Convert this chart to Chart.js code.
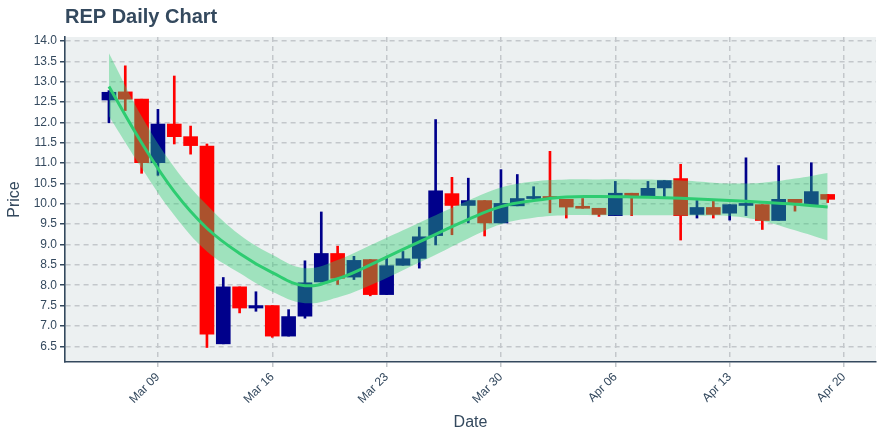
<!DOCTYPE html>
<html>
<head>
<meta charset="utf-8">
<title>REP Daily Chart</title>
<script src="https://cdn.jsdelivr.net/npm/chart.js"></script>
<style>
  html, body { margin: 0; padding: 0; background: #ffffff; }
  #wrap { width: 880px; height: 440px; }
</style>
</head>
<body>
<div id="wrap"><canvas id="repChart" width="880" height="440"></canvas></div>
<script>
// Daily candles, Mar 06 .. Apr 19
const dates = ['Mar 06','Mar 07','Mar 08','Mar 09','Mar 10','Mar 11','Mar 12','Mar 13','Mar 14','Mar 15',
  'Mar 16','Mar 17','Mar 18','Mar 19','Mar 20','Mar 21','Mar 22','Mar 23','Mar 24','Mar 25',
  'Mar 26','Mar 27','Mar 28','Mar 29','Mar 30','Mar 31','Apr 01','Apr 02','Apr 03','Apr 04',
  'Apr 05','Apr 06','Apr 07','Apr 08','Apr 09','Apr 10','Apr 11','Apr 12','Apr 13','Apr 14',
  'Apr 15','Apr 16','Apr 17','Apr 18','Apr 19'];
const opens  = [12.55,12.75,12.57,11.01,11.96,11.65,11.42,6.56,7.96,7.44,
  7.50,6.75,7.24,8.08,8.78,8.20,8.63,7.77,8.49,8.66,
  9.22,10.25,9.96,10.08,9.53,9.95,10.13,10.18,10.11,9.91,
  9.89,9.71,10.26,10.17,10.39,10.62,9.74,9.91,9.77,9.96,
  9.98,9.59,10.11,9.98,10.23];
const highs  = [12.78,13.39,12.57,12.32,13.14,11.91,11.47,8.19,7.96,7.84,
  7.50,7.40,8.60,9.80,8.96,8.71,8.63,8.71,8.83,9.43,
  12.07,10.65,10.63,10.08,10.84,10.72,10.42,11.29,10.11,10.13,
  9.89,10.55,10.26,10.55,10.57,10.97,10.08,10.06,9.98,11.13,
  9.98,10.94,10.11,11.01,10.23];
const lows   = [11.99,12.29,10.75,10.70,11.47,11.22,6.47,6.56,7.32,7.36,
  6.72,6.75,7.19,8.08,8.02,8.14,7.74,7.77,8.49,8.42,
  8.99,9.24,9.53,9.21,9.53,9.95,10.11,9.78,9.65,9.89,
  9.69,9.71,9.71,10.17,10.17,9.11,9.65,9.65,9.60,9.71,
  9.37,9.59,9.82,9.98,10.03];
const closes = [12.74,12.57,11.01,11.96,11.65,11.43,6.80,7.96,7.44,7.50,
  6.75,7.23,8.06,8.78,8.17,8.61,7.77,8.48,8.65,9.19,
  10.32,9.96,10.08,9.53,10.01,10.13,10.18,10.13,9.92,9.89,
  9.74,10.26,10.19,10.38,10.57,9.71,9.91,9.74,9.98,9.98,
  9.59,10.11,10.03,10.30,10.11];

// Smoothed trend with its band, read every 2 days (day index counted from Mar 06)
const trendDays  = [0, 2, 4, 6, 8, 10, 12, 14, 16, 18, 20, 22, 24, 26, 28, 30, 32, 34, 36, 38, 40, 42, 44];
const trendMid   = [12.88,11.50,10.30,9.40,8.78,8.31,7.99,8.16,8.50,8.88,9.25,9.62,9.93,10.08,10.17,10.18,10.17,10.15,10.12,10.08,10.04,9.99,9.92];
const trendUpper = [13.70,12.15,10.90,9.97,9.24,8.75,8.42,8.62,8.98,9.35,9.72,10.08,10.40,10.55,10.60,10.60,10.60,10.59,10.55,10.50,10.52,10.62,10.76];
const trendLower = [12.15,10.88,9.72,8.83,8.30,7.84,7.56,7.70,8.00,8.37,8.75,9.15,9.50,9.66,9.72,9.72,9.72,9.72,9.71,9.70,9.58,9.35,9.10];

// Axis ticks
const xTickDays   = [3, 10, 17, 24, 31, 38, 45];
const xTickLabels = ['Mar 09','Mar 16','Mar 23','Mar 30','Apr 06','Apr 13','Apr 20'];
const yTicks = [6.5,7.0,7.5,8.0,8.5,9.0,9.5,10.0,10.5,11.0,11.5,12.0,12.5,13.0,13.5,14.0];

document.addEventListener("DOMContentLoaded", () => {
    const UP = '#00008b';
    const DOWN = '#ff0000';
    const INK = '#34495e';

    const candleColors = opens.map((o, i) => closes[i] >= o ? UP : DOWN);
    const bodies = dates.map((d, i) => ({ x: i, y: [opens[i], closes[i]] }));
    const wicks = dates.map((d, i) => ({ x: i, y: [lows[i], highs[i]] }));
    const toPts = arr => trendDays.map((d, i) => ({ x: d, y: arr[i] }));

    Chart.defaults.font.family = '"Liberation Sans", Arial, sans-serif';
    Chart.defaults.color = INK;

    // plot background + title
    const plotBg = {
        id: 'plotBg',
        beforeDraw(chart) {
            const { ctx, chartArea: a } = chart;
            ctx.save();
            ctx.fillStyle = '#ecf0f1';
            ctx.fillRect(a.left, a.top, a.right - a.left, a.bottom - a.top);
            ctx.restore();
        },
        afterDraw(chart) {
            const ctx = chart.ctx;
            ctx.save();
            ctx.fillStyle = INK;
            ctx.font = 'bold 20px "Liberation Sans", Arial, sans-serif';
            ctx.textBaseline = 'alphabetic';
            ctx.fillText('REP Daily Chart', 65, 23);
            ctx.restore();
        }
    };

    const ctx = document.getElementById('repChart').getContext('2d');
    new Chart(ctx, {
        type: 'bar',
        data: {
            datasets: [
                {
                    type: 'bar',
                    label: 'wick',
                    data: wicks,
                    backgroundColor: candleColors,
                    barThickness: 2,
                    grouped: false,
                    order: 5
                },
                {
                    type: 'bar',
                    label: 'body',
                    data: bodies,
                    backgroundColor: candleColors,
                    barThickness: 14,
                    minBarLength: 2,
                    grouped: false,
                    order: 4
                },
                {
                    type: 'line',
                    label: 'upper',
                    data: toPts(trendUpper),
                    borderWidth: 0,
                    pointRadius: 0,
                    tension: 0.4,
                    fill: false,
                    order: 3
                },
                {
                    type: 'line',
                    label: 'lower',
                    data: toPts(trendLower),
                    borderWidth: 0,
                    pointRadius: 0,
                    tension: 0.4,
                    fill: '-1',
                    backgroundColor: 'rgba(46, 204, 113, 0.4)',
                    order: 2
                },
                {
                    type: 'line',
                    label: 'trend',
                    data: toPts(trendMid),
                    borderColor: '#2ecc71',
                    borderWidth: 3,
                    pointRadius: 0,
                    tension: 0.4,
                    fill: false,
                    order: 1
                }
            ]
        },
        options: {
            responsive: false,
            animation: false,
            layout: { padding: { top: 37, right: 4, left: 0, bottom: 0 } },
            plugins: {
                legend: { display: false },
                tooltip: { enabled: false }
            },
            scales: {
                x: {
                    type: 'linear',
                    min: -2.69,
                    max: 46.96,
                    offset: false,
                    afterBuildTicks: scale => { scale.ticks = xTickDays.map(v => ({ value: v })); },
                    afterFit: scale => { scale.height = 78; },
                    ticks: {
                        callback: v => xTickLabels[xTickDays.indexOf(v)],
                        minRotation: 45,
                        maxRotation: 45,
                        padding: 3,
                        color: INK,
                        font: { size: 12 }
                    },
                    grid: {
                        offset: false,
                        color: '#c3c7cb',
                        lineWidth: 1.5,
                        tickLength: 5,
                        tickColor: '#c3c7cb'
                    },
                    border: { display: true, color: INK, width: 1.6, dash: [5, 4] },
                    title: {
                        display: true,
                        text: 'Date',
                        color: INK,
                        font: { size: 16 },
                        padding: { top: 0, bottom: 8 }
                    }
                },
                y: {
                    type: 'linear',
                    min: 6.114,
                    max: 14.098,
                    afterBuildTicks: scale => { scale.ticks = yTicks.map(v => ({ value: v })); },
                    afterFit: scale => { scale.width = 65; },
                    ticks: {
                        callback: v => v.toFixed(1),
                        padding: 3,
                        color: INK,
                        font: { size: 12 }
                    },
                    grid: {
                        color: '#c3c7cb',
                        lineWidth: 1.5,
                        tickLength: 5,
                        tickColor: INK
                    },
                    border: { display: true, color: INK, width: 1.6, dash: [5, 4] },
                    title: {
                        display: true,
                        text: 'Price',
                        color: INK,
                        font: { size: 16 },
                        padding: { top: 5, bottom: 0 }
                    }
                }
            }
        },
        plugins: [plotBg]
    });
});
</script>
</body>
</html>
